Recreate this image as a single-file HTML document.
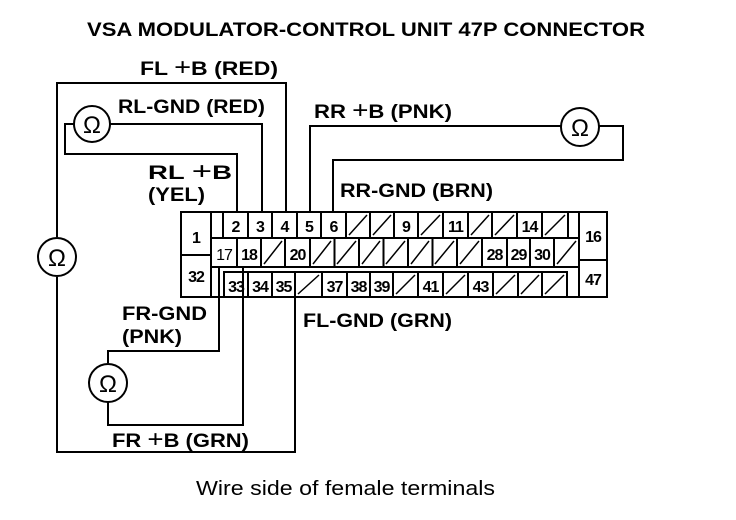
<!DOCTYPE html>
<html><head><meta charset="utf-8"><style>
html,body{margin:0;padding:0;background:#fff;}
svg{display:block}
text{font-family:"Liberation Sans",Arial,sans-serif;fill:#000}
.t{font-weight:bold;font-size:19px}
.n{font-size:16px;font-weight:bold;text-anchor:middle;letter-spacing:-1px}
</style></head><body>
<svg width="736" height="520" viewBox="0 0 736 520" xmlns="http://www.w3.org/2000/svg">
<g fill="none" stroke="#000" stroke-width="2">
<polyline points="286,212 286,83 57,83 57,237"/>
<polyline points="57,277 57,452 295,452 295,297"/>
<circle cx="57" cy="257" r="19"/>
<circle cx="92" cy="124" r="18"/>
<polyline points="110,124 262,124 262,212"/>
<polyline points="74,124 65,124 65,154 237,154 237,212"/>
<polyline points="310,212 310,126 561,126"/>
<circle cx="580" cy="127" r="19"/>
<polyline points="599,126 623,126 623,160 333,160 333,212"/>
<polyline points="219,267 219,351 108,351 108,363"/>
<circle cx="108" cy="383" r="19"/>
<polyline points="108,402 108,425 243,425 243,267"/>
<rect x="181" y="212" width="426" height="85"/>
<line x1="211" y1="212" x2="211" y2="297"/>
<line x1="181" y1="255" x2="211" y2="255"/>
<line x1="579" y1="212" x2="579" y2="297"/>
<line x1="579" y1="260" x2="607" y2="260"/>
<line x1="211" y1="238" x2="579" y2="238"/>
<line x1="211" y1="267" x2="579" y2="267"/>
<polyline points="224,297 224,272 567,272 567,297"/>
<path d="M223 212V238M248 212V238M272 212V238M297 212V238M321 212V238M346 212V238M370 212V238M394 212V238M418 212V238M443 212V238M468 212V238M492 212V238M517 212V238M542 212V238M568 212V238"/>
<path d="M237 238V267M261 238V267M285 238V267M310 238V267M334.5 238V267M359 238V267M383.5 238V267M408 238V267M432.5 238V267M457 238V267M482 238V267M507 238V267M530 238V267M554 238V267"/>
<path d="M248 272V297M272 272V297M295 272V297M322 272V297M347 272V297M370 272V297M393 272V297M418 272V297M443 272V297M468 272V297M493 272V297M518 272V297M542 272V297"/>
</g>
<g stroke="#000" stroke-width="1.5">
<path d="M349 235L367 215M373 235L391 215M421 235L440 215M471 235L489 215M495 235L514 215M545 235L565 215"/>
<path d="M264 264L282 241M313 264L331 241M337 264L356 241M362 264L380 241M386 264L405 241M411 264L429 241M435 264L454 241M460 264L479 241M557 264L576 241"/>
<path d="M298 294L319 275M396 294L415 275M446 294L465 275M496 294L515 275M521 294L539 275M545 294L564 275"/>
</g>
<g class="n">
<text x="196" y="243">1</text>
<text x="196" y="282">32</text>
<text x="593" y="242">16</text>
<text x="593" y="285">47</text>
<text x="235.5" y="232">2</text><text x="260" y="232">3</text><text x="284.5" y="232">4</text>
<text x="309" y="232">5</text><text x="333.5" y="232">6</text>
<text x="406" y="232">9</text><text x="455.5" y="232">11</text><text x="529.5" y="232">14</text>
<text x="224" y="260" font-weight="normal">17</text><text x="249" y="260">18</text><text x="297.5" y="260">20</text>
<text x="494.5" y="260">28</text><text x="518.5" y="260">29</text><text x="542" y="260">30</text>
<text x="236" y="292">33</text><text x="260" y="292">34</text><text x="283.5" y="292">35</text>
<text x="334.5" y="292">37</text><text x="358.5" y="292">38</text><text x="381.5" y="292">39</text>
<text x="430.5" y="292">41</text><text x="480.5" y="292">43</text>
</g>
<g font-size="24" text-anchor="middle">
<text x="57" y="266">Ω</text><text x="92" y="133">Ω</text><text x="580" y="136">Ω</text><text x="108" y="392">Ω</text>
</g>
<text class="t" x="87" y="36" font-size="20" textLength="558" lengthAdjust="spacingAndGlyphs">VSA MODULATOR-CONTROL UNIT 47P CONNECTOR</text>
<text class="t" x="140" y="75" textLength="138" lengthAdjust="spacingAndGlyphs">FL <tspan font-weight="normal" font-size="24">+</tspan>B (RED)</text>
<text class="t" x="118" y="113" textLength="147" lengthAdjust="spacingAndGlyphs">RL-GND (RED)</text>
<text class="t" x="148" y="179" textLength="84" lengthAdjust="spacingAndGlyphs">RL <tspan font-weight="normal" font-size="24">+</tspan>B</text>
<text class="t" x="148" y="201" textLength="57" lengthAdjust="spacingAndGlyphs">(YEL)</text>
<text class="t" x="314" y="118" textLength="138" lengthAdjust="spacingAndGlyphs">RR <tspan font-weight="normal" font-size="24">+</tspan>B (PNK)</text>
<text class="t" x="340" y="197" textLength="153" lengthAdjust="spacingAndGlyphs">RR-GND (BRN)</text>
<text class="t" x="122" y="320" textLength="85" lengthAdjust="spacingAndGlyphs">FR-GND</text>
<text class="t" x="122" y="343" textLength="60" lengthAdjust="spacingAndGlyphs">(PNK)</text>
<text class="t" x="303" y="327" textLength="149" lengthAdjust="spacingAndGlyphs">FL-GND (GRN)</text>
<text class="t" x="112" y="447" textLength="137" lengthAdjust="spacingAndGlyphs">FR <tspan font-weight="normal" font-size="24">+</tspan>B (GRN)</text>
<text x="196" y="495" font-size="20" textLength="299" lengthAdjust="spacingAndGlyphs">Wire side of female terminals</text>
</svg>
</body></html>
